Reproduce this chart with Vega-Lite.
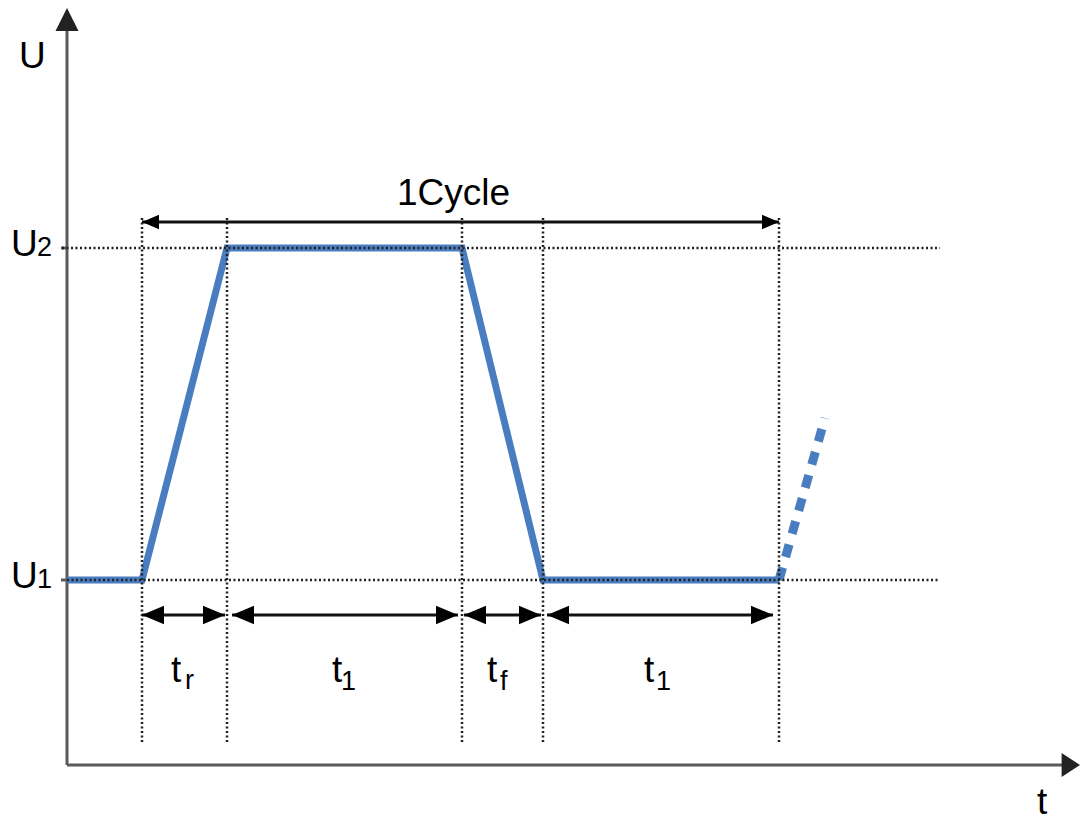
{
  "$schema": "https://vega.github.io/schema/vega-lite/v6.json",
  "width": 1080,
  "height": 822,
  "autosize": {"type": "none"},
  "padding": 0,
  "background": "white",
  "config": {"view": {"stroke": null}},
  "datasets": {
    "wave": [
      {"t": 0, "u": 185, "i": 0},
      {"t": 75, "u": 185, "i": 1},
      {"t": 160, "u": 517, "i": 2},
      {"t": 395, "u": 517, "i": 3},
      {"t": 476, "u": 185, "i": 4},
      {"t": 712, "u": 185, "i": 5}
    ],
    "waveNext": [
      {"t": 712, "u": 185, "i": 0},
      {"t": 758, "u": 347, "i": 1}
    ],
    "axes": [
      {"t": 0, "u": 0, "t2": 0, "u2": 736},
      {"t": 0, "u": 0, "t2": 996, "u2": 0},
      {"t": -6, "u": 517, "t2": 0, "u2": 517},
      {"t": -6, "u": 185, "t2": 0, "u2": 185}
    ],
    "dotted": [
      {"t": -5, "u": 517, "t2": 873, "u2": 517},
      {"t": 0, "u": 185, "t2": 873, "u2": 185},
      {"t": 75, "u": 547, "t2": 75, "u2": 23},
      {"t": 160, "u": 547, "t2": 160, "u2": 23},
      {"t": 395, "u": 547, "t2": 395, "u2": 23},
      {"t": 476, "u": 547, "t2": 476, "u2": 23},
      {"t": 712, "u": 547, "t2": 712, "u2": 23}
    ],
    "dims": [
      {"t": 75, "u": 543, "t2": 712, "u2": 543},
      {"t": 75, "u": 150, "t2": 158, "u2": 150},
      {"t": 165, "u": 150, "t2": 391, "u2": 150},
      {"t": 397, "u": 150, "t2": 474, "u2": 150},
      {"t": 480, "u": 150, "t2": 706, "u2": 150}
    ],
    "cycleHeads": [
      {"t": 75, "u": 543, "dir": "left"},
      {"t": 712, "u": 543, "dir": "right"}
    ],
    "spanHeads": [
      {"t": 75, "u": 150, "dir": "left"},
      {"t": 158, "u": 150, "dir": "right"},
      {"t": 165, "u": 150, "dir": "left"},
      {"t": 391, "u": 150, "dir": "right"},
      {"t": 397, "u": 150, "dir": "left"},
      {"t": 474, "u": 150, "dir": "right"},
      {"t": 480, "u": 150, "dir": "left"},
      {"t": 706, "u": 150, "dir": "right"}
    ],
    "axisHeads": [
      {"t": 0, "u": 757, "dir": "up"},
      {"t": 1013, "u": 0, "dir": "axisright"}
    ],
    "bigText": [
      {"t": -48, "u": 697, "label": "U"},
      {"t": -56, "u": 509, "label": "U"},
      {"t": -56, "u": 177, "label": "U"},
      {"t": 330, "u": 560, "label": "1Cycle"},
      {"t": 104, "u": 83, "label": "t"},
      {"t": 265, "u": 83, "label": "t"},
      {"t": 420, "u": 83, "label": "t"},
      {"t": 577, "u": 83, "label": "t"},
      {"t": 970, "u": -49, "label": "t"}
    ],
    "subText": [
      {"t": -30, "u": 509, "label": "2"},
      {"t": -30, "u": 177, "label": "1"},
      {"t": 118, "u": 76, "label": "r"},
      {"t": 274, "u": 75, "label": "1"},
      {"t": 433, "u": 75, "label": "f"},
      {"t": 589, "u": 75, "label": "1"}
    ]
  },
  "encoding": {
    "x": {"field": "t", "type": "quantitative", "scale": {"domain": [-67, 1013], "nice": false, "zero": false}, "axis": null},
    "y": {"field": "u", "type": "quantitative", "scale": {"domain": [-57, 765], "nice": false, "zero": false}, "axis": null}
  },
  "layer": [
    {
      "data": {"name": "axes"},
      "mark": {"type": "rule", "color": "#5a5a5a", "strokeWidth": 3},
      "encoding": {"x2": {"field": "t2"}, "y2": {"field": "u2"}}
    },
    {
      "data": {"name": "wave"},
      "mark": {"type": "line", "color": "#4a7dbf", "strokeWidth": 7, "strokeJoin": "miter", "strokeCap": "butt"},
      "encoding": {"order": {"field": "i", "type": "quantitative"}}
    },
    {
      "data": {"name": "waveNext"},
      "mark": {"type": "line", "color": "#4a7dbf", "strokeWidth": 9, "strokeDash": [13, 11], "strokeCap": "butt"},
      "encoding": {"order": {"field": "i", "type": "quantitative"}}
    },
    {
      "data": {"name": "dotted"},
      "mark": {"type": "rule", "color": "#222222", "strokeWidth": 2.5, "strokeDash": [2, 2.5]},
      "encoding": {"x2": {"field": "t2"}, "y2": {"field": "u2"}}
    },
    {
      "data": {"name": "dims"},
      "mark": {"type": "rule", "color": "#111111", "strokeWidth": 3},
      "encoding": {"x2": {"field": "t2"}, "y2": {"field": "u2"}}
    },
    {
      "data": {"name": "cycleHeads"},
      "mark": {"type": "point", "filled": true, "color": "#000000", "opacity": 1, "size": 289, "strokeWidth": 0},
      "encoding": {
        "shape": {"field": "dir", "type": "nominal", "legend": null,
          "scale": {"domain": ["right", "left", "up", "axisright"], "range": ["M0,0L-2,-0.85L-2,0.85Z", "M0,0L2,-0.85L2,0.85Z", "M0,0L-1,2L1,2Z", "M0,0L-1.6,-1.05L-1.6,1.05Z"]}}
      }
    },
    {
      "data": {"name": "spanHeads"},
      "mark": {"type": "point", "filled": true, "color": "#000000", "opacity": 1, "size": 484, "strokeWidth": 0},
      "encoding": {
        "shape": {"field": "dir", "type": "nominal", "legend": null,
          "scale": {"domain": ["right", "left", "up", "axisright"], "range": ["M0,0L-2,-0.85L-2,0.85Z", "M0,0L2,-0.85L2,0.85Z", "M0,0L-1,2L1,2Z", "M0,0L-1.6,-1.05L-1.6,1.05Z"]}}
      }
    },
    {
      "data": {"name": "axisHeads"},
      "mark": {"type": "point", "filled": true, "color": "#222222", "opacity": 1, "size": 529, "strokeWidth": 0},
      "encoding": {
        "shape": {"field": "dir", "type": "nominal", "legend": null,
          "scale": {"domain": ["right", "left", "up", "axisright"], "range": ["M0,0L-2,-0.85L-2,0.85Z", "M0,0L2,-0.85L2,0.85Z", "M0,0L-1,2L1,2Z", "M0,0L-1.6,-1.05L-1.6,1.05Z"]}}
      }
    },
    {
      "data": {"name": "bigText"},
      "mark": {"type": "text", "font": "Liberation Sans", "fontSize": 37, "align": "left", "baseline": "alphabetic", "color": "#000000"},
      "encoding": {"text": {"field": "label", "type": "nominal"}}
    },
    {
      "data": {"name": "subText"},
      "mark": {"type": "text", "font": "Liberation Sans", "fontSize": 27, "align": "left", "baseline": "alphabetic", "color": "#000000"},
      "encoding": {"text": {"field": "label", "type": "nominal"}}
    }
  ]
}
